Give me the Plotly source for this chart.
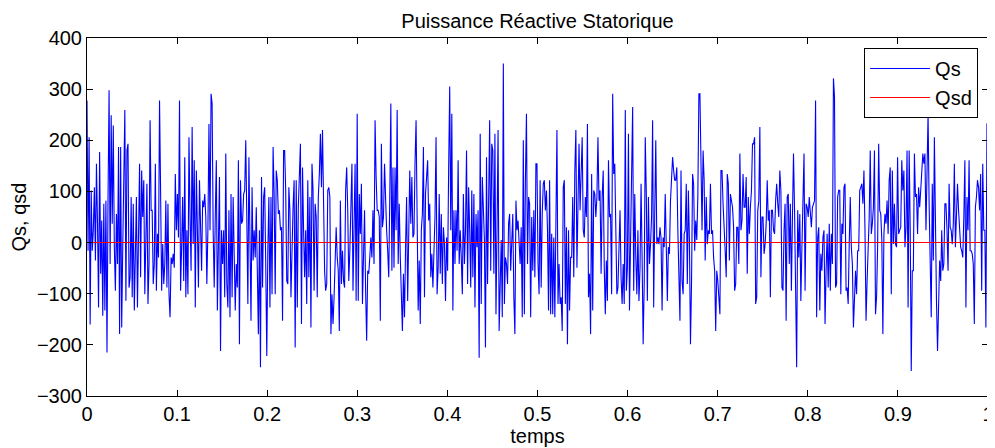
import numpy as np
import plotly.graph_objects as go

seg01 = [278, -16, 206, -160, 102, -16, 24, 108, -35, 154, 37, -127, 177, -61, 43, -143, 76, -133, 82, -215, 86, 298, -42, 249, 37, 229, -9, -94, 56, -42, 187, -179, 187, -166, -9, 167, 259, -114, 180, 193, -88, -68, 89, -107, 76, -133, -29, 89, -127, 63, 154, -68, 141, 50, 122, -101, 50]
seg02 = [115, -120, -42, 239, 63, 63, -81, -42, 154, -94, 17, -29, 278, 102, -94, -3, -81, -42, 82, -88, 76, -101, -146, -29, -42, -22, -49, 134, 24, 95, 10, 278, -94, -9, 89, -75, 167, -107, 24, -101, 206, 50, -55, 226, -3, 161, -127, 141, 24, -88, 122, 37, -55, 82, 69, 95, 50, -81, 24, 232, 24, 291, 272, 24, -88, 50, 161, -133, 24, 128, -212, 24]
seg03 = [-42, 24, -107, 174, -81, -127, 63, -146, 95, -107, 89, -55, -133, -42, -88, 161, -199, 122, 37, 43, 95, 102, 200, 50, -120, 167, 24, -153, 108, -35, 24, -29, 69, -35, -179, 24, -244, 128, -88, 89, 108, -42, -222, -16, 89, -127, 89, -101, 187, 95, -101, 141, 122, 56, 63, 24, 30, -153, 180, 180, 102, -75, -81, 108, 63, -107, -3, 69, 122, -205, 122, -127, 69, 128]
seg04 = [193, -159, 147, 24, -68, 24, -120, 122, -68, 89, -166, 154, 102, -94, 76, 50, -107, 89, 134, 213, 108, 220, 76, -55, -94, -81, 102, 108, 89, -179, -101, -159, -107, -42, 30, -29, -55, -173, 82, -81, -16, -75, -88, 102, 147, 63, -75, -16, 115, 154, -94, 50, 154, -114, 252, -114, 95, 17, 115, -120, -16, 63, -94, -192, -55, -61, -29, 10, -29, 63, -42, 239]
seg05 = [128, 63, 63, 50, -153, 193, 30, 50, 154, 76, 24, -16, -68, 89, 272, -55, 147, -49, 147, 24, 259, -42, 76, -29, -133, -173, -61, -146, -9, 89, -114, -16, 141, 37, 128, 10, 17, 154, 239, 50, -133, -35, -159, 24, 56, 187, -107, 95, 128, 161, 43, 76, -68, -22, -88, -35, 50, 206, -101, -49, 95, -61, 56, -81, 30, -3, -114, 10, -55, 147, 305, 24]
seg06 = [252, -133, 63, -42, 63, -16, 161, -42, 24, -29, -101, 95, -42, 24, 180, -81, 108, 24, -88, 102, -68, 95, -127, 56, -9, 63, -225, 213, -120, 128, 82, 5, -205, 167, -81, 167, 239, -55, 193, 180, -61, 213, -140, 24, 220, -173, -35, 5, -146, 350, -120, -29, -42, -81, 37, 56, -55, 24, 56, -107, -179, 82, 24, 43, -9, -42, 30, -146, 200, -140, 122, 252, -42, 89]
seg07 = [76, -146, 50, -55, 63, -68, 154, 154, -42, -101, 122, -88, 56, 115, 122, 63, 102, 24, -133, 122, -140, 17, -140, 10, -146, 10, 220, -120, -42, -120, -107, -173, 108, 122, -120, 30, -199, 24, -133, -29, -29, 89, -68, 141, 220, -49, 69, 193, 63, 134, 206, 24, 10, 89, 50, 232, -107, -61, -179, 134, -133, 102, 95, 50, 89, 206, 82, 102, -61, 89, 141, -49]
seg08 = [-140, -35, -114, 161, 50, 56, -101, 291, 134, 154, -42, -101, -88, 5, 63, -68, -120, -42, -120, 259, -94, -49, 213, -133, 37, 180, 265, -94, 95, -29, -101, 24, -114, -49, 115, -29, -199, -81, 206, 95, -114, 89, -42, -3, 50, 239, -127, 56, 200, -3, 10, -3, 30, 10, -133, 10, -9, 95, -55, -114, -9, -22, 82, 141, 167, 141, 122, 122, 147, 24, -81, -153]
seg09 = [141, -75, -101, 17, 24, 115, -81, 102, 5, -199, -81, 134, 115, -16, 43, 5, 89, 291, 291, 187, 24, 180, 122, -35, 89, -3, 24, 17, 115, 17, 24, -29, -55, -173, -55, -75, -101, -140, 141, 141, 76, 10, -16, -68, 134, 115, -35, 95, 82, 69, 30, -94, -81, 30, 30, -42, 174, 24, 43, 134, 69, 69, 128, -61, 89, 17, 69, 102, 193, 193, 206, -120]
seg10 = [-107, 63, 82, 226, -68, 50, 50, -22, -3, 37, 122, 43, 63, -107, 63, 63, 24, 17, 82, 115, 76, 50, 141, 102, -88, -94, 24, 76, -153, 89, 95, -42, 76, -94, 50, 174, 63, -101, -244, 63, -29, 56, -114, -9, 69, 174, -94, 76, 69, 50, 89, 50, 30, 69, 76, 82, 278, -146, 10, 30, -133, -22, -55, 10, 24, -159, -55, 17, -88, 37, -94, 17, -42]
seg11 = [321, 285, -88, -81, 89, 102, 102, -101, 37, 17, 108, 115, -94, -88, -120, -3, 89, -9, -42, -166, -120, -55, -101, -16, -16, 102, 108, 115, 76, 141, 24, -153, -75, -16, 50, 180, 17, 37, 69, 180, -140, -107, -9, 193, 63, 56, 5, -179, 17, 56, 37, 82, 17, 122, 147, -101, 141, -3, 76, -3, -9, 167, 17, 24, 30, 161, 102, 141, -9, 30, 180, -127]
seg12 = [180, 30, -251, -55, -55, 174, 89, 95, 17, 108, 69, 102, 141, 174, 154, 174, 24, 167, 252, 76, -42, -146, 115, -35, 206, -42, -114, -212, -107, -35, -75, 24, -55, -42, 76, 76, 24, -55, 115, 30, 24, -3, 37, 154, -9, 50, 115, 63, 24, -9, -16, -29, 50, 161, -127, 89, 24, 161, -16, -16, -22, -42, -159, 69, 89, 122, 108, 63, 134, -94, 154, 24, 24, -166, 232, 235]

qs = seg01 + seg02 + seg03 + seg04 + seg05 + seg06 + seg07 + seg08 + seg09 + seg10 + seg11 + seg12
t = np.linspace(0, 1, len(qs))
qsd_t = [0, 1]
qsd = [0, 0]

x_ticks = [0, 0.1, 0.2, 0.3, 0.4, 0.5, 0.6, 0.7, 0.8, 0.9, 1]
x_labels = ["0", "0.1", "0.2", "0.3", "0.4", "0.5", "0.6", "0.7", "0.8", "0.9", "1"]
y_ticks = [-300, -200, -100, 0, 100, 200, 300, 400]

font = "Liberation Sans, Arial, sans-serif"
fs = 20

fig = go.Figure()
fig.add_trace(go.Scatter(x=t, y=qs, mode="lines", name="Qs",
                         line=dict(color="#0000ff", width=1.1)))
fig.add_trace(go.Scatter(x=qsd_t, y=qsd, mode="lines", name="Qsd",
                         line=dict(color="#ff0000", width=1.1)))

axis_common = dict(showline=True, linecolor="black", linewidth=1, mirror="ticks",
                   ticks="inside", ticklen=6, tickcolor="black", showgrid=False,
                   zeroline=False, automargin=False,
                   tickfont=dict(family=font, size=fs, color="black"))

# the page body has an 8 px margin; the figure is sized to fit the window
fig.update_layout(
    width=987, height=440,
    margin=dict(l=79, r=7, t=30, b=52),
    paper_bgcolor="white", plot_bgcolor="white",
    font=dict(family=font, size=fs, color="black"),
    title=dict(text="Puissance Réactive Statorique", x=0.5, xref="paper", xanchor="center",
               y=0.97, yref="container", yanchor="middle",
               font=dict(family=font, size=fs, color="black")),
    xaxis=dict(range=[0, 1], tickvals=x_ticks, ticktext=x_labels,
               title=dict(text="temps", standoff=2, font=dict(family=font, size=fs)),
               **axis_common),
    yaxis=dict(range=[-300, 400], tickvals=y_ticks,
               title=dict(text="Qs, qsd", standoff=8, font=dict(family=font, size=fs)),
               **axis_common),
    legend=dict(x=0.989, y=0.972, xanchor="right", yanchor="top",
                bgcolor="white", bordercolor="black", borderwidth=1,
                font=dict(family=font, size=fs, color="black"),
                tracegroupgap=0, itemwidth=60),
    showlegend=True,
)

fig.write_html("out.html")
